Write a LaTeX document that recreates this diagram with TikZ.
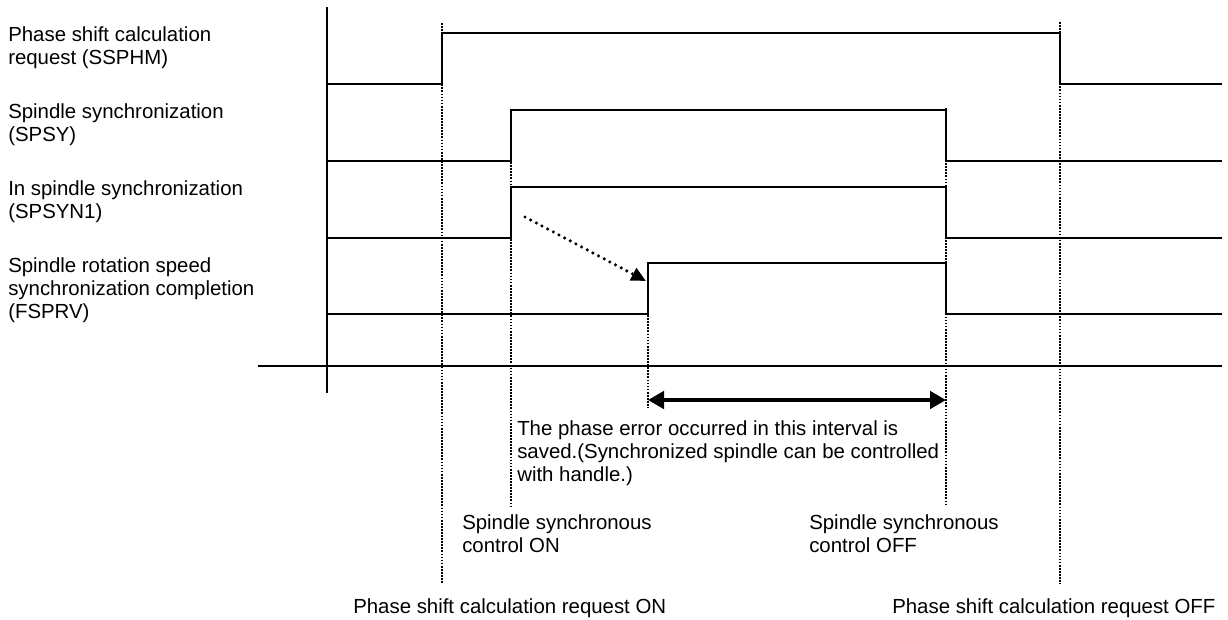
\documentclass[tikz,border=0pt]{standalone}
\usepackage{fontspec}
\setmainfont{Liberation Sans}
\usetikzlibrary{arrows.meta, positioning}

\begin{document}
\begin{tikzpicture}[x=0.75pt, y=-0.75pt,
    sig/.style={line width=1.5pt, line join=miter},
    axisline/.style={line width=1.3pt},
    guide/.style={line width=1.7pt, dash pattern=on 1.3pt off 1.0pt},
    cause/.style={line width=2.6pt, line cap=round, dash pattern=on 0pt off 4.8pt,
      -{Triangle[length=11pt, width=10pt]}},
    span/.style={line width=2.8pt, {Triangle[length=12pt, width=13pt]}-{Triangle[length=12pt, width=13pt]}},
    txt/.style={anchor=north west, inner sep=0pt, align=left,
      font=\fontsize{15.3}{17.5}\selectfont},
  ]
  \useasboundingbox (0,0) rectangle (1228,619);
  % time marks
  \coordinate (tA) at (442,0);
  \coordinate (tB) at (511,0);
  \coordinate (tC) at (648,0);
  \coordinate (tD) at (946,0);
  \coordinate (tE) at (1060,0);
  % signal names
  \node[txt] (nSSPHM) at (8,26) {Phase shift calculation\\request (SSPHM)};
  \node[txt] (nSPSY) at (8,103) {Spindle synchronization\\(SPSY)};
  \node[txt] (nSPSYN) at (8,180) {In spindle synchronization\\(SPSYN1)};
  \node[txt] (nFSPRV) at (8,257) {Spindle rotation speed\\synchronization completion\\(FSPRV)};
  % axes
  \draw[axisline] (327,7) -- (327,393);
  \draw[axisline] (258,366) -- (1222,366);
  % waveforms
  \draw[sig] (327,84) -| (tA |- 0,33) -| (tE |- 0,84) -- (1222,84);
  \draw[sig] (327,161) -| (tB |- 0,110) -| (tD |- 0,161) -- (1222,161);
  \draw[sig] (327,238) -| (tB |- 0,187) -| (tD |- 0,238) -- (1222,238);
  \draw[sig] (327,314) -| (tC |- 0,263) -| (tD |- 0,314) -- (1222,314);
  % timing guides
  \draw[guide] (tA |- 0,23) -- (tA |- 0,584);
  \draw[guide] (tB |- 0,110) -- (tB |- 0,506);
  \draw[guide] (tC |- 0,263) -- (tC |- 0,408);
  \draw[guide] (tD |- 0,108) -- (tD |- 0,506);
  \draw[guide] (tE |- 0,22) -- (tE |- 0,584);
  % SPSYN1 leads to FSPRV
  \coordinate (causeFrom) at (525,217);
  \coordinate (causeTo) at (646,281);
  \draw[cause] (causeFrom) -- (causeTo);
  % saved interval
  \coordinate (spanL) at (tC |- 0,400);
  \coordinate (spanR) at (tD |- 0,400);
  \draw[span] (spanL) -- (spanR);
  \node[txt] (nSaved) at (517,420) {The phase error occurred in this interval is\\
    saved.(Synchronized spindle can be controlled\\with handle.)};
  \node[txt] (nCtrlOn) at (462,514) {Spindle synchronous\\control ON};
  \node[txt] (nCtrlOff) at (809,514) {Spindle synchronous\\control OFF};
  \node[txt] (nReqOn) at (353,598) {Phase shift calculation request ON};
  \node[txt] (nReqOff) at (892,598) {Phase shift calculation request OFF};
\end{tikzpicture}
\end{document}
